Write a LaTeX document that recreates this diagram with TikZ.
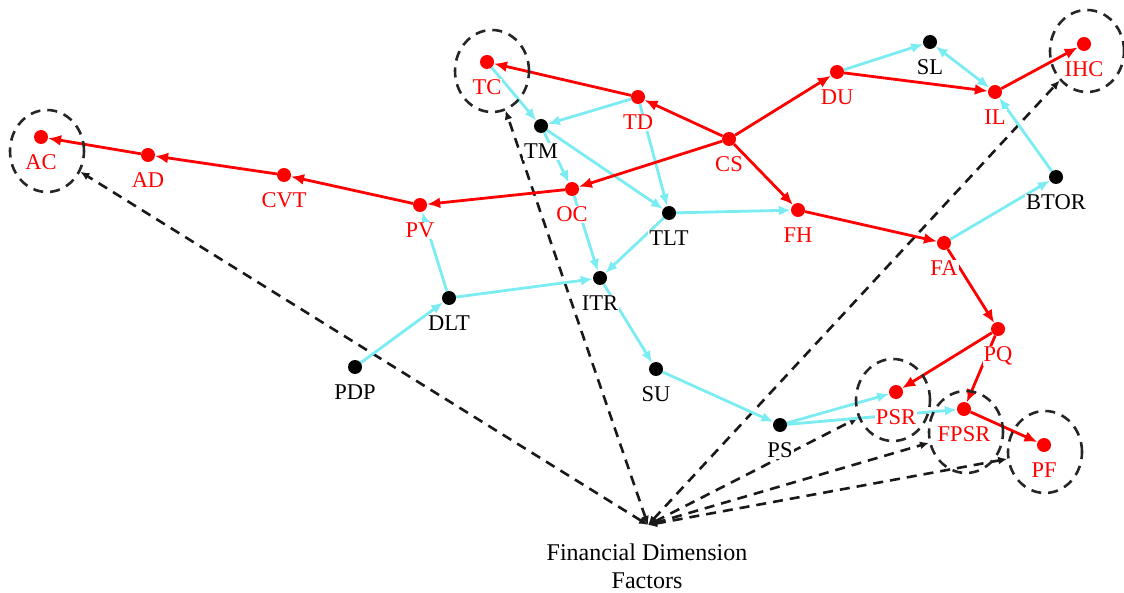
\documentclass[tikz,border=0pt]{standalone}
\usepackage{fontspec}
\setmainfont{Liberation Serif}
\usetikzlibrary{arrows.meta,backgrounds,shapes.geometric}
\definecolor{edgered}{RGB}{255,0,0}
\definecolor{edgecyan}{RGB}{122,236,242}
\begin{document}
\begin{tikzpicture}[x=1pt,y=-1pt,
  lbl/.style={anchor=base,label distance=25.5pt,fill=white,inner sep=1pt,font=\fontsize{22.5}{26}\selectfont},
  rdot/.style={circle,fill=edgered,inner sep=0pt,minimum size=14pt,label={[lbl,text=edgered]below:#1}},
  bdot/.style={circle,fill=black,inner sep=0pt,minimum size=14pt,label={[lbl,text=black]below:#1}},
  ring/.style={ellipse,draw=black!85,dash pattern=on 10pt off 7pt,line width=2.6pt,minimum width=74pt,minimum height=82pt,inner sep=0pt},
  redarr/.style={draw=edgered,line width=2.8pt,-{Latex[length=13pt,width=11pt]}},
  cyanarr/.style={draw=edgecyan,line width=2.8pt,-{Latex[length=12pt,width=10pt]}},
  cyanboth/.style={draw=edgecyan,line width=2.8pt,{Latex[length=12pt,width=10pt]}-{Latex[length=12pt,width=10pt]}},
  dasharr/.style={draw=black!90,line width=2.6pt,dash pattern=on 10pt off 7pt,{Latex[length=9pt,width=8pt]}-{Latex[length=9pt,width=8pt]}},
  captxt/.style={align=center,inner sep=0pt,anchor=north,font=\fontsize{24}{28}\selectfont}
]
\useasboundingbox (0,0) rectangle (1124,593);

% dots
\node[rdot=AC] (AC) at (41,137) {};
\node[rdot=AD] (AD) at (148,155) {};
\node[rdot=CVT] (CVT) at (284,175) {};
\node[rdot=PV] (PV) at (420,205) {};
\node[rdot=TC] (TC) at (487,62) {};
\node[bdot=TM] (TM) at (541,126) {};
\node[rdot=TD] (TD) at (638,97) {};
\node[rdot=CS] (CS) at (729,139) {};
\node[rdot=OC] (OC) at (572,189) {};
\node[bdot=TLT] (TLT) at (669,213) {};
\node[rdot=FH] (FH) at (798,210) {};
\node[bdot=ITR] (ITR) at (600,278) {};
\node[bdot=DLT] (DLT) at (449,298) {};
\node[bdot=PDP] (PDP) at (355,367) {};
\node[bdot=SU] (SU) at (656,369) {};
\node[bdot=SL] (SL) at (930,42) {};
\node[rdot=DU] (DU) at (837,72) {};
\node[rdot=IL] (IL) at (995,92) {};
\node[rdot=IHC] (IHC) at (1084,44) {};
\node[bdot=BTOR] (BTOR) at (1056,177) {};
\node[rdot=FA] (FA) at (944,243) {};
\node[rdot=PQ] (PQ) at (998,329) {};
\node[rdot=PSR] (PSR) at (896,392) {};
\node[rdot=FPSR] (FPSR) at (964,409) {};
\node[rdot=PF] (PF) at (1044,445) {};
\node[bdot=PS] (PS) at (780,425) {};

% dashed rings
\node[ring] (cAC) at (47,151) {};
\node[ring] (cTC) at (492,71) {};
\node[ring] (cIHC) at (1087,51) {};
\node[ring] (cPSR) at (893,400) {};
\node[ring] (cFPSR) at (966,432) {};
\node[ring] (cPF) at (1045,452) {};

% caption
\coordinate (fdf) at (648,525);
\node[captxt] (cap) at (647,544) {Financial Dimension\\Factors};

\begin{pgfonlayer}{background}
  % dashed arrows
  \draw[dasharr] (fdf) -- (cAC);
  \draw[dasharr] (fdf) -- (cTC);
  \draw[dasharr] (fdf) -- (cIHC);
  \draw[dasharr] (fdf) -- (cPSR);
  \draw[dasharr] (fdf) -- (cFPSR);
  \draw[dasharr] (fdf) -- (cPF);
  % cyan arrows
  \draw[cyanarr] (TC) -- (TM);
  \draw[cyanarr] (TD) -- (TM);
  \draw[cyanarr] (TD) -- (TLT);
  \draw[cyanarr] (TM) -- (OC);
  \draw[cyanarr] (TM) -- (TLT);
  \draw[cyanarr] (TLT) -- (FH);
  \draw[cyanarr] (TLT) -- (ITR);
  \draw[cyanarr] (OC) -- (ITR);
  \draw[cyanarr] (DLT) -- (PV);
  \draw[cyanarr] (DLT) -- (ITR);
  \draw[cyanarr] (PDP) -- (DLT);
  \draw[cyanarr] (ITR) -- (SU);
  \draw[cyanarr] (SU) -- (PS);
  \draw[cyanarr] (PS) -- (PSR);
  \draw[cyanarr] (PS) -- (FPSR);
  \draw[cyanarr] (DU) -- (SL);
  \draw[cyanboth] (SL) -- (IL);
  \draw[cyanarr] (BTOR) -- (IL);
  \draw[cyanarr] (FA) -- (BTOR);
  % red arrows
  \draw[redarr] (AD) -- (AC);
  \draw[redarr] (CVT) -- (AD);
  \draw[redarr] (PV) -- (CVT);
  \draw[redarr] (OC) -- (PV);
  \draw[redarr] (CS) -- (OC);
  \draw[redarr] (CS) -- (TD);
  \draw[redarr] (TD) -- (TC);
  \draw[redarr] (CS) -- (DU);
  \draw[redarr] (DU) -- (IL);
  \draw[redarr] (IL) -- (IHC);
  \draw[redarr] (CS) -- (FH);
  \draw[redarr] (FH) -- (FA);
  \draw[redarr] (FA) -- (PQ);
  \draw[redarr] (PQ) -- (PSR);
  \draw[redarr] (PQ) -- (FPSR);
  \draw[redarr] (FPSR) -- (PF);
\end{pgfonlayer}
\end{tikzpicture}
\end{document}
